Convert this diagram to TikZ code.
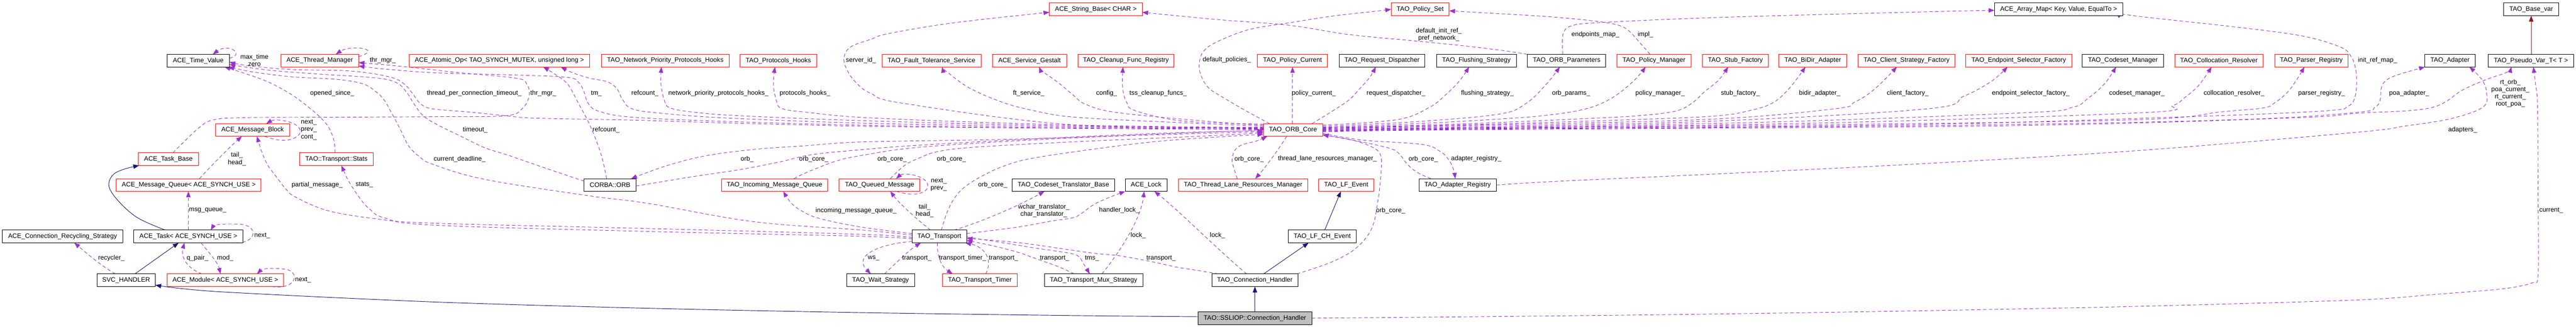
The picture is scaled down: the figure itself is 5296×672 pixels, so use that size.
\documentclass[tikz,border=0pt]{standalone}
\usepackage{fontspec}
\setmainfont{Liberation Sans}
\usetikzlibrary{arrows.meta}
\definecolor{tdep}{HTML}{9A32CD}
\definecolor{tred}{HTML}{FF0000}
\definecolor{tblue}{HTML}{191970}
\definecolor{tfire}{HTML}{8B1A1A}
\definecolor{tgray}{HTML}{BFBFBF}
\newcommand{\dgfont}{\fontsize{13.3pt}{15pt}\selectfont}
\pgfdeclarelayer{bgl}
\pgfdeclarelayer{edgel}
\pgfsetlayers{bgl,edgel,main}
\begin{document}
\begin{tikzpicture}[x=1pt,y=-1pt,
  cls/.style={draw, line width=1pt, fill=white, minimum height=26pt, inner sep=0pt, outer sep=0pt, font=\dgfont, anchor=center},
  rc/.style={cls, draw=tred},
  bc/.style={cls, draw=black},
  lab/.style={font=\dgfont, inner sep=0pt, align=center, text=black},
  dep/.style={draw=tdep, line width=1pt, dash pattern=on 7pt off 5pt, -{Triangle[length=12pt,width=9pt]}},
  inh/.style={draw=tblue, line width=1pt, -{Triangle[length=12pt,width=9pt]}},
  fire/.style={draw=tfire, line width=1pt, -{Triangle[length=12pt,width=9pt]}}]
\begin{pgfonlayer}{bgl}
\fill[white] (0,0) rectangle (5296,672);
\end{pgfonlayer}
\useasboundingbox (0,0) rectangle (5296,672);
% Row A
\node[rc, minimum width=191pt] (strb) at (2252.8,19.3) {ACE\_String\_Base< CHAR >};
\node[rc, minimum width=119.3pt] (polset) at (2919.7,19.3) {TAO\_Policy\_Set};
\node[bc, minimum width=264pt] (amap) at (4232.3,19.3) {ACE\_Array\_Map< Key, Value, EqualTo >};
\node[bc, minimum width=113pt] (basevar) at (5203.8,19.3) {TAO\_Base\_var};
% Row B
\node[bc, minimum width=128.4pt] (tv) at (407.5,124.7) {ACE\_Time\_Value};
\node[rc, minimum width=160pt] (thrm) at (657.3,124.7) {ACE\_Thread\_Manager};
\node[rc, minimum width=371.3pt] (atomic) at (1026.7,124.7) {ACE\_Atomic\_Op< TAO\_SYNCH\_MUTEX, unsigned long >};
\node[rc, minimum width=263pt] (nphooks) at (1367.8,124.7) {TAO\_Network\_Priority\_Protocols\_Hooks};
\node[rc, minimum width=158pt] (phooks) at (1600.3,124.7) {TAO\_Protocols\_Hooks};
\node[rc, minimum width=203.4pt] (fts) at (1915,124.7) {TAO\_Fault\_Tolerance\_Service};
\node[rc, minimum width=152.4pt] (sg) at (2116.5,124.7) {ACE\_Service\_Gestalt};
\node[rc, minimum width=197.3pt] (cfr) at (2314.7,124.7) {TAO\_Cleanup\_Func\_Registry};
\node[rc, minimum width=144pt] (pcur) at (2657.3,124.7) {TAO\_Policy\_Current};
\node[bc, minimum width=176pt] (rd) at (2841.3,124.7) {TAO\_Request\_Dispatcher};
\node[bc, minimum width=164pt] (fs) at (3035.3,124.7) {TAO\_Flushing\_Strategy};
\node[bc, minimum width=161pt] (op) at (3220.8,124.7) {TAO\_ORB\_Parameters};
\node[rc, minimum width=152pt] (pm) at (3400.3,124.7) {TAO\_Policy\_Manager};
\node[rc, minimum width=135pt] (sf) at (3567.8,124.7) {TAO\_Stub\_Factory};
\node[rc, minimum width=139pt] (bidir) at (3726.8,124.7) {TAO\_BiDir\_Adapter};
\node[rc, minimum width=199pt] (csf) at (3919.8,124.7) {TAO\_Client\_Strategy\_Factory};
\node[rc, minimum width=218pt] (esf) at (4150.3,124.7) {TAO\_Endpoint\_Selector\_Factory};
\node[bc, minimum width=166.7pt] (cm) at (4364.3,124.7) {TAO\_Codeset\_Manager};
\node[rc, minimum width=181pt] (cr) at (4561.8,124.7) {TAO\_Collocation\_Resolver};
\node[rc, minimum width=151pt] (pr) at (4751.8,124.7) {TAO\_Parser\_Registry};
\node[bc, minimum width=103pt] (adapter) at (5036.8,124.7) {TAO\_Adapter};
\node[bc, minimum width=176pt] (pvar) at (5203.3,124.7) {TAO\_Pseudo\_Var\_T< T >};
% Row C
\node[rc, minimum width=152pt] (mb) at (519.3,267.4) {ACE\_Message\_Block};
\node[rc, minimum width=122pt] (core) at (2658.3,267.4) {TAO\_ORB\_Core};
% Row D
\node[rc, minimum width=124.3pt] (tb) at (346.2,327.4) {ACE\_Task\_Base};
\node[rc, minimum width=151.3pt] (stats) at (691.7,327.4) {TAO::Transport::Stats};
% Row E
\node[rc, minimum width=297.4pt] (mq) at (388,380.6) {ACE\_Message\_Queue< ACE\_SYNCH\_USE >};
\node[bc, minimum width=106.3pt] (orb) at (1254.2,380.6) {CORBA::ORB};
\node[rc, minimum width=218pt] (imq) at (1592.3,380.6) {TAO\_Incoming\_Message\_Queue};
\node[rc, minimum width=166.7pt] (qm) at (1808.3,380.6) {TAO\_Queued\_Message};
\node[bc, minimum width=210.7pt] (ctb) at (2186.3,380.6) {TAO\_Codeset\_Translator\_Base};
\node[bc, minimum width=86pt] (lock) at (2356.3,380.6) {ACE\_Lock};
\node[rc, minimum width=265.3pt] (tlrm) at (2555.7,380.6) {TAO\_Thread\_Lane\_Resources\_Manager};
\node[rc, minimum width=113.3pt] (lfe) at (2767.7,380.6) {TAO\_LF\_Event};
\node[bc, minimum width=159pt] (areg) at (2996.8,380.6) {TAO\_Adapter\_Registry};
% Row F
\node[bc, minimum width=247.3pt] (crs) at (128.7,486.4) {ACE\_Connection\_Recycling\_Strategy};
\node[bc, minimum width=224pt] (task) at (387.3,486.4) {ACE\_Task< ACE\_SYNCH\_USE >};
\node[bc, minimum width=112.3pt] (tr) at (1931.2,486.4) {TAO\_Transport};
\node[bc, minimum width=140pt] (lfch) at (2718.3,486.4) {TAO\_LF\_CH\_Event};
% Row G
\node[bc, minimum width=120pt] (svc) at (259.3,576.4) {SVC\_HANDLER};
\node[rc, minimum width=240pt] (mod) at (463.3,576.4) {ACE\_Module< ACE\_SYNCH\_USE >};
\node[bc, minimum width=140pt] (ws) at (1810.3,576.4) {TAO\_Wait\_Strategy};
\node[rc, minimum width=154.4pt] (tt) at (2014.5,576.4) {TAO\_Transport\_Timer};
\node[bc, minimum width=202pt] (tms) at (2248.3,576.4) {TAO\_Transport\_Mux\_Strategy};
\node[bc, minimum width=177pt] (ch) at (2579.8,576.4) {TAO\_Connection\_Handler};
% Row H
\node[bc, fill=tgray, minimum width=233.4pt] (ssl) at (2580,654.4) {TAO::SSLIOP::Connection\_Handler};

\begin{pgfonlayer}{edgel}
% ---- left group
\draw[dep] ([yshift=5pt]tv.east) .. controls (505,112) and (470,88) .. ([xshift=30pt]tv.north);
\draw[dep] ([yshift=8pt]thrm.east) .. controls (790,100) and (720,92) .. ([xshift=33pt]thrm.north);
\draw[dep] plot[smooth,tension=0.6] coordinates {([xshift=-3pt]stats.north) (687,291) (678,266) (665,248) (640,225) (600,195) (550,168) (500,150) ([xshift=-10pt]tv.south east)};
\draw[dep] plot[smooth,tension=0.6] coordinates {([yshift=8pt]orb.west) (1113,343) (1047,320) (997,304) (947,280) (900,257) (870,238) (852,215) (836,190) (815,170) (770,160) (650,152) (550,144) ([yshift=-8pt]tv.east)};
\draw[dep] plot[smooth,tension=0.6] coordinates {([yshift=3pt]tr.west) (1770,473) (1550,456) (1330,418) (1213,403) (997,369) (890,338) (862,322) (840,300) (823,266) (807,236) (790,206) (772,188) (745,172) (690,163) (600,158) (520,148) ([xshift=-2pt]tv.south east)};
\draw[dep] plot[smooth,tension=0.6] coordinates {([yshift=1pt]core.west) (2200,264) (1800,260) (1500,253) (1300,247) (1100,243) (1040,238) (960,230) (890,224) (865,214) (848,192) (830,172) (800,158) (720,146) (600,143) (510,135) ([yshift=-3pt]tv.east)};
\draw[dep] plot[smooth,tension=0.6] coordinates {([xshift=9pt]tb.north) (380,290) (410,262) (437,247) (500,242) (700,241) (900,240) (1040,238) (1075,222) (1088,196) (1083,173) (1062,161) (950,150) (820,136) ([yshift=-4pt]thrm.east)};
\draw[dep] plot[smooth,tension=0.6] coordinates {([yshift=2pt]core.west) (2200,263) (1800,258) (1500,250) (1300,241) (1232,229) (1210,214) (1201,190) (1190,170) (1165,159) (1050,154) (900,150) (790,142) ([yshift=-11pt]thrm.east)};
\draw[dep] plot[smooth,tension=0.6] coordinates {([yshift=3pt]core.west) (2200,261) (1800,254) (1500,243) (1360,233) (1300,224) (1280,205) (1268,182) (1248,168) (1213,161) (1178,150) ([xshift=126.3pt]atomic.south)};
\draw[dep] plot[smooth,tension=0.6] coordinates {([xshift=-7pt]orb.north) (1235,315) (1213,258) (1190,214) (1167,173) (1140,152) ([xshift=90pt]atomic.south)};
\draw[dep] ([xshift=25pt]mb.south) .. controls (600,302) and (630,275) .. (612,260) .. controls (600,248) and (565,244) .. ([xshift=28pt]mb.north);
\draw[dep] ([xshift=22pt]mq.north) .. controls (430,345) and (475,300) .. ([xshift=-22pt]mb.south);
\draw[dep] plot[smooth,tension=0.6] coordinates {([yshift=-2pt]tr.west) (1770,482) (1330,470) (890,459) (773,450) (673,433) (607,405) (587,388) (570,366) (550,339) (537,309) ([xshift=9pt]mb.south)};
\draw[dep] plot[smooth,tension=0.6] coordinates {([yshift=-5pt]tr.west) (1770,486) (1330,476) (890,463) (790,448) (760,430) (740,408) (717,373) (707,352) ([xshift=10pt]stats.south)};
\draw[dep] (task.north) -- (task.north |- mq.south);
\draw[dep] ([xshift=-25pt]task.south east) .. controls (530,505) and (535,462) .. (490,461) .. controls (465,460) and (440,462) .. ([xshift=46pt]task.north);
\draw[dep] ([xshift=-48pt]mod.north) .. controls (380,550) and (372,525) .. ([xshift=-8pt]task.south);
\draw[dep] ([xshift=26pt]task.south) .. controls (430,520) and (448,540) .. ([xshift=-10pt]mod.north);
\draw[dep] ([xshift=-25pt]mod.south east) .. controls (610,596) and (615,562) .. (592,555) .. controls (570,550) and (540,552) .. ([xshift=65pt]mod.north);
\draw[dep] ([xshift=-22pt]svc.north) .. controls (205,545) and (175,518) .. ([xshift=24pt]crs.south);
\draw[inh] plot[smooth,tension=0.6] coordinates {([xshift=-47pt]task.north) (283,448) (243,413) (224,383) (232,360) (255,348) ([xshift=2pt]tb.south west)};
\draw[inh] ([xshift=18pt]svc.north) -- ([xshift=-20pt]task.south);
\draw[inh] plot[smooth,tension=0.5] coordinates {([yshift=3pt]ssl.west) (2200,649) (1770,643) (1330,634) (890,621) (450,600) ([yshift=-10pt]svc.east)};
% ---- middle group
\draw[dep] plot[smooth,tension=0.6] coordinates {([yshift=4pt]core.west) (2200,259) (1800,249) (1520,238) (1420,230) (1378,222) (1367,210) (1359,175) ([xshift=-8pt]nphooks.south)};
\draw[dep] plot[smooth,tension=0.6] coordinates {([yshift=5pt]core.west) (2200,257) (1800,243) (1650,230) (1607,223) (1597,210) (1590,175) ([xshift=-7pt]phooks.south)};
\draw[dep] plot[smooth,tension=0.6] coordinates {(core.west) (2400,275) (2200,283) (2000,288) (1770,292) (1653,300) (1553,307) (1453,320) (1380,338) (1330,355) ([xshift=-10pt]orb.north east)};
\draw[dep] plot[smooth,tension=0.6] coordinates {([xshift=40pt]imq.north) (1653,357) (1687,343) (1720,331) (1770,320) (1900,302) (2200,284) (2450,275) ([yshift=-4pt]core.west)};
\draw[dep] plot[smooth,tension=0.6] coordinates {([yshift=-2pt]orb.east) (1420,364) (1520,349) (1603,333) (1670,318) (1770,308) (1900,298) (2200,282) (2450,272) ([yshift=-2pt]core.west)};
\draw[dep] plot[smooth,tension=0.6] coordinates {([xshift=22pt]qm.north) (1860,340) (1890,325) (1927,312) (2000,303) (2200,292) (2450,281) ([yshift=-6pt]core.west)};
\draw[dep] plot[smooth,tension=0.6] coordinates {([xshift=4pt]tr.north) (1947,437) (1960,411) (1977,390) (2000,373) (2027,358) (2060,343) (2110,328) (2210,312) (2367,292) (2500,282) ([yshift=-9pt]core.west)};
\draw[dep] ([xshift=35pt]qm.south) .. controls (1895,410) and (1918,388) .. (1903,372) .. controls (1890,358) and (1855,356) .. ([xshift=34pt]qm.north);
\draw[dep] ([xshift=-18pt]tr.north) .. controls (1890,455) and (1850,420) .. ([xshift=22pt]qm.south);
\draw[dep] plot[smooth,tension=0.6] coordinates {([yshift=6pt]tr.west) (1770,467) (1687,450) (1652,436) (1627,418) ([xshift=18pt]imq.south)};
\draw[dep] ([xshift=30pt]tr.north) .. controls (2030,452) and (2100,420) .. ([xshift=-39pt]ctb.south);
\draw[dep] ([yshift=3pt]tr.south west) .. controls (1800,503) and (1755,528) .. ([xshift=-20pt]ws.north);
\draw[dep] ([xshift=8pt]ws.north) .. controls (1840,543) and (1868,515) .. ([xshift=-38pt]tr.south);
\draw[dep] ([xshift=-4pt]tr.south) .. controls (1926,532) and (1938,550) .. ([xshift=-56pt]tt.north);
\draw[dep] ([xshift=12pt]tt.north) .. controls (2042,535) and (2025,508) .. ([xshift=-3pt]tr.south east);
\draw[dep] plot[smooth,tension=0.6] coordinates {([xshift=-40pt]tms.north) (2177,549) (2127,531) (2093,519) (2043,506) ([yshift=-8pt]tr.east)};
\draw[dep] plot[smooth,tension=0.6] coordinates {([yshift=-1pt]tr.east) (2060,499) (2127,510) (2200,521) (2218,528) (2228,543) ([xshift=-8pt]tms.north)};
\draw[dep] plot[smooth,tension=0.6] coordinates {([xshift=-75pt]ch.north) (2467,557) (2417,549) (2367,538) (2300,526) (2250,521) (2200,514) (2093,499) ([yshift=-4pt]tr.east)};
\draw[dep] plot[smooth,tension=0.6] coordinates {([yshift=6pt]tr.east) (2093,467) (2160,455) (2205,448) (2222,440) (2250,420) (2283,405) (lock.south west)};
\draw[dep] ([xshift=17pt]tms.north) .. controls (2305,515) and (2345,450) .. ([xshift=-4pt]lock.south);
\draw[dep] ([xshift=-17pt]ch.north) .. controls (2500,510) and (2420,430) .. ([xshift=17pt]lock.south);
\draw[dep] plot[smooth,tension=0.6] coordinates {([yshift=6pt]core.west) (2210,257) (1860,213) (1790,192) (1760,170) (1742,145) (1735,120) (1748,97) (1790,81) (1827,69) (1960,47) ([yshift=-6pt]strb.west)};
\draw[dep] plot[smooth,tension=0.6] coordinates {([yshift=8pt]core.west) (2400,251) (2210,241) (2127,228) (2060,210) (1993,181) (1947,148) ([xshift=22pt]fts.south)};
\draw[dep] plot[smooth,tension=0.6] coordinates {([yshift=10pt]core.west) (2500,251) (2300,232) (2233,215) (2208,197) (2177,171) (2145,148) ([xshift=20pt]sg.south)};
\draw[dep] plot[smooth,tension=0.6] coordinates {([yshift=12pt]core.west) (2433,249) (2335,228) (2316,210) (2308,180) ([xshift=-6pt]cfr.south)};
\draw[dep] plot[smooth,tension=0.6] coordinates {([xshift=-48pt]core.north) (2567,231) (2517,202) (2484,180) (2468,152) (2466,128) (2474,106) (2500,87) (2567,61) (2650,47) (2740,33) (2820,24) (polset.west)};
\draw[dep] plot[smooth,tension=0.6] coordinates {([xshift=-12pt]tlrm.north) (2537,347) (2533,330) (2538,310) (2553,298) (2583,290) ([xshift=8pt]core.south west)};
\draw[dep] ([xshift=-13pt]core.south) .. controls (2630,305) and (2605,340) .. ([xshift=25pt]tlrm.north);
\draw[inh] (ssl.north) -- (ssl.north |- ch.south);
\draw[inh] ([xshift=18pt]ch.north) -- ([xshift=-28pt]lfch.south);
\draw[inh] ([xshift=5pt]lfch.north) -- ([xshift=-11pt]lfe.south);
\draw[dep] plot[smooth,tension=0.6] coordinates {([xshift=-2pt]ch.north east) (2730,542) (2773,521) (2800,499) (2817,476) (2826,452) (2831,424) (2836,390) (2840,343) (2838,318) (2822,303) (2780,288) ([yshift=-10pt]core.east)};
% ---- right group
\draw[dep] ([xshift=-1pt]core.north) -- ([xshift=-1pt]core.north |- pcur.south);
\draw[dep] plot[smooth,tension=0.6] coordinates {([xshift=39pt]core.north) (2740,228) (2773,206) (2794,184) (2816,159) ([xshift=-13pt]rd.south)};
\draw[dep] plot[smooth,tension=0.6] coordinates {([yshift=10pt]core.east) (2873,246) (2940,220) (2973,194) (3000,167) ([xshift=-15pt]fs.south)};
\draw[dep] plot[smooth,tension=0.6] coordinates {(op.north west) (3090,104) (3007,94) (2907,84) (2773,71) (2650,52) (2500,40) ([yshift=-6pt]strb.east)};
\draw[dep] plot[smooth,tension=0.6] coordinates {([xshift=-8pt]pm.north) (3375,92) (3347,62) (3320,50) (3267,42) (3180,34) (3080,28) ([yshift=-3pt]polset.east)};
\draw[dep] plot[smooth,tension=0.6] coordinates {([xshift=-8pt]op.north) (3212,80) (3217,62) (3232,53) (3280,47) (3530,36) (3970,24) ([yshift=-2pt]amap.west)};
\draw[dep] plot[smooth,tension=0.6] coordinates {([yshift=8pt]core.east) (2900,251) (3080,235) (3137,213) (3180,172) ([xshift=-14pt]op.south)};
\draw[dep] plot[smooth,tension=0.6] coordinates {([yshift=6pt]core.east) (2900,255) (3080,245) (3180,237) (3260,224) (3313,202) (3357,168) ([xshift=-17pt]pm.south)};
\draw[dep] plot[smooth,tension=0.6] coordinates {([yshift=5pt]core.east) (3000,255) (3280,243) (3380,237) (3447,228) (3480,211) (3505,188) (3533,165) ([xshift=-15pt]sf.south)};
\draw[dep] plot[smooth,tension=0.6] coordinates {([yshift=4pt]core.east) (3000,257) (3300,248) (3520,239) (3603,226) (3647,210) (3680,180) ([xshift=-15pt]bidir.south)};
\draw[dep] plot[smooth,tension=0.6] coordinates {([yshift=3pt]core.east) (3000,258) (3500,246) (3770,224) (3813,210) (3853,184) ([xshift=-20pt]csf.south)};
\draw[dep] plot[smooth,tension=0.6] coordinates {([yshift=2pt]core.east) (3000,260) (3500,250) (3960,224) (4037,198) (4093,168) ([xshift=-23pt]esf.south)};
\draw[dep] plot[smooth,tension=0.6] coordinates {([yshift=1pt]core.east) (3000,262) (3600,252) (4160,232) (4260,221) (4293,202) (4327,172) ([xshift=-14pt]cm.south)};
\draw[dep] plot[smooth,tension=0.6] coordinates {(core.east) (3000,263) (3700,254) (4400,232) (4467,217) (4490,202) (4520,176) ([xshift=-15pt]cr.south)};
\draw[dep] plot[smooth,tension=0.6] coordinates {([yshift=-1pt]core.east) (3000,264) (3800,256) (4400,246) (4567,230) (4653,222) (4677,211) (4707,185) ([xshift=-14pt]pr.south)};
\draw[dep] plot[smooth,tension=0.6] coordinates {([yshift=-2pt]core.east) (3000,265) (3900,257) (4500,240) (4780,228) (4828,218) (4842,198) (4845,165) (4842,138) (4834,117) (4812,97) (4733,74) (4600,56) (4400,34) ([yshift=-8pt]amap.east)};
\draw[dep] plot[smooth,tension=0.6] coordinates {([yshift=-3pt]core.east) (3000,266) (4000,258) (4600,246) (4846,231) (4883,220) (4893,206) (4896,180) (4906,165) (4929,154) (adapter.south west)};
\draw[dep] plot[smooth,tension=0.6] coordinates {([yshift=-4pt]core.east) (3000,267) (4100,259) (4700,243) (4846,233) (4996,222) (5063,185) (5113,163) (5153,149) ([xshift=-40pt]pvar.south)};
\draw[dep] plot[smooth,tension=0.6] coordinates {(areg.east) (3200,373) (3525,358) (3965,336) (4405,309) (4846,272) (4946,259) (5039,244) (5105,220) (5112,190) (5102,163) ([xshift=40pt]adapter.south)};
\draw[dep] plot[smooth,tension=0.5] coordinates {(ssl.east) (3080,651) (3520,646) (3960,639) (4400,630) (4846,617) (5013,605) (5146,594) (5205,582) (5218,565) (5218,400) (5217,220) (5213,175) ([xshift=5pt]pvar.south)};
\draw[fire] (basevar.south |- pvar.north) -- (basevar.south);
\draw[dep] plot[smooth,tension=0.6] coordinates {([yshift=-7pt]core.east) (2800,288) (2923,297) (2960,311) (2978,328) (2988,348) ([xshift=-5pt]areg.north)};
\draw[dep] plot[smooth,tension=0.6] coordinates {([xshift=-55pt]areg.north) (2920,358) (2903,347) (2890,334) (2878,318) (2860,306) (2800,292) ([yshift=-10pt]core.east)};
\end{pgfonlayer}

% ---- labels
\node[lab] (l1) at (523,124) {max\_time\\zero};
\node[lab] (l2) at (787,124) {thr\_mgr\_};
\node[lab] (l3) at (683,192) {opened\_since\_};
\node[lab] (l4) at (975,192) {thread\_per\_connection\_timeout\_};
\node[lab] (l5) at (1117,192) {thr\_mgr\_};
\node[lab] (l6) at (1226,192) {tm\_};
\node[lab] (l7) at (1326,192) {refcount\_};
\node[lab] (l8) at (977,267) {timeout\_};
\node[lab] (l9) at (1246,267) {refcount\_};
\node[lab] (l10) at (945,327) {current\_deadline\_};
\node[lab] (l11) at (635,267) {next\_\\prev\_\\cont\_};
\node[lab] (l12) at (487,327) {tail\_\\head\_};
\node[lab] (l13) at (652,380) {partial\_message\_};
\node[lab] (l14) at (749,380) {stats\_};
\node[lab] (l15) at (427,433) {msg\_queue\_};
\node[lab] (l16) at (539,485) {next\_};
\node[lab] (l17) at (406,531) {q\_pair\_};
\node[lab] (l18) at (463,531) {mod\_};
\node[lab] (l19) at (623,576) {next\_};
\node[lab] (l20) at (229,531) {recycler\_};
\node[lab] (l21) at (1477,192) {network\_priority\_protocols\_hooks\_};
\node[lab] (l22) at (1655,192) {protocols\_hooks\_};
\node[lab] (l23) at (1536,327) {orb\_};
\node[lab] (l24) at (1673,327) {orb\_core\_};
\node[lab] (l25) at (1834,327) {orb\_core\_};
\node[lab] (l26) at (1956,327) {orb\_core\_};
\node[lab] (l27) at (2041,380) {orb\_core\_};
\node[lab] (l28) at (1930,380) {next\_\\prev\_};
\node[lab] (l29) at (1901,433) {tail\_\\head\_};
\node[lab] (l30) at (1760,433) {incoming\_message\_queue\_};
\node[lab] (l31) at (2146,433) {wchar\_translator\_\\char\_translator\_};
\node[lab] (l32) at (1796,531) {ws\_};
\node[lab] (l33) at (1885,531) {transport\_};
\node[lab] (l34) at (1979,531) {transport\_timer\_};
\node[lab] (l35) at (2063,531) {transport\_};
\node[lab] (l36) at (2168,531) {transport\_};
\node[lab] (l37) at (2245,531) {tms\_};
\node[lab] (l38) at (2387,531) {transport\_};
\node[lab] (l39) at (2301,432) {handler\_lock\_};
\node[lab] (l40) at (2340,484) {lock\_};
\node[lab] (l41) at (2503,484) {lock\_};
\node[lab] (l42) at (1770,124) {server\_id\_};
\node[lab] (l43) at (2115,192) {ft\_service\_};
\node[lab] (l44) at (2275,192) {config\_};
\node[lab] (l45) at (2381,192) {tss\_cleanup\_funcs\_};
\node[lab] (l46) at (2522,123) {default\_policies\_};
\node[lab] (l47) at (2568,327) {orb\_core\_};
\node[lab] (l48) at (2729,327) {thread\_lane\_resources\_manager\_};
\node[lab] (l49) at (2859,433) {orb\_core\_};
\node[lab] (l50) at (2701,192) {policy\_current\_};
\node[lab] (l51) at (2870,192) {request\_dispatcher\_};
\node[lab] (l52) at (3058,192) {flushing\_strategy\_};
\node[lab] (l53) at (2958,71) {default\_init\_ref\_\\pref\_network\_};
\node[lab] (l54) at (3383,71) {impl\_};
\node[lab] (l55) at (3280,71) {endpoints\_map\_};
\node[lab] (l56) at (3230,192) {orb\_params\_};
\node[lab] (l57) at (3413,192) {policy\_manager\_};
\node[lab] (l58) at (3578,192) {stub\_factory\_};
\node[lab] (l59) at (3741,192) {bidir\_adapter\_};
\node[lab] (l60) at (3922,192) {client\_factory\_};
\node[lab] (l61) at (4175,192) {endpoint\_selector\_factory\_};
\node[lab] (l62) at (4393,192) {codeset\_manager\_};
\node[lab] (l63) at (4593,192) {collocation\_resolver\_};
\node[lab] (l64) at (4773,192) {parser\_registry\_};
\node[lab] (l65) at (4888,124) {init\_ref\_map\_};
\node[lab] (l66) at (4953,192) {poa\_adapter\_};
\node[lab] (l67) at (5063,267) {adapters\_};
\node[lab] (l68) at (5161,192) {rt\_orb\_\\poa\_current\_\\rt\_current\_\\root\_poa\_};
\node[lab] (l69) at (5245,433) {current\_};
\node[lab] (l70) at (3035,327) {adapter\_registry\_};
\node[lab] (l71) at (2926,327) {orb\_core\_};
\end{tikzpicture}
\end{document}
